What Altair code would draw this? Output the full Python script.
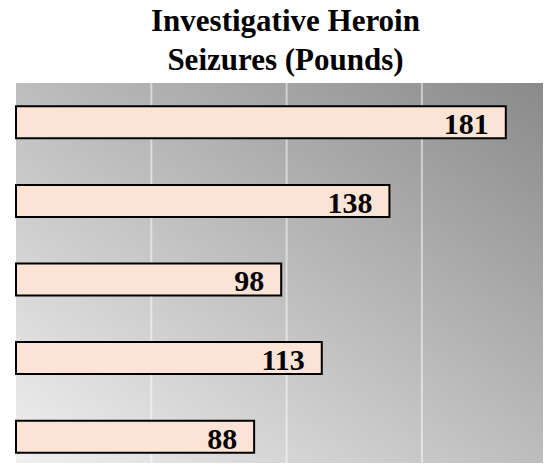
import altair as alt
import pandas as pd

# Data
rows = ["1", "2", "3", "4", "5"]
values = [181, 138, 98, 113, 88]
grid_values = [50, 100, 150]
title_lines = ["Investigative Heroin", "Seizures (Pounds)"]

df = pd.DataFrame({"row": rows, "value": values})
grid_df = pd.DataFrame({"g": grid_values})
bg_df = pd.DataFrame({"k": [0]})

x_scale = alt.Scale(domain=[0, 194.75], nice=False, zero=True)
y_scale = alt.Scale(domain=rows, paddingInner=0.593, paddingOuter=0.214, align=0.693)

background = alt.Chart(bg_df).mark_rect(
    fill=alt.Gradient(
        gradient="linear",
        x1=0, y1=1, x2=1, y2=0,
        stops=[
            alt.GradientStop(offset=0, color="#f0f0f0"),
            alt.GradientStop(offset=1, color="#8a8a8a"),
        ],
    ),
    strokeWidth=0,
).encode(
    x=alt.value(0), x2=alt.value("width"),
    y=alt.value(0), y2=alt.value("height"),
)

grid = alt.Chart(grid_df).mark_rule(
    color="#ffffff", strokeWidth=2, opacity=0.5
).encode(
    x=alt.X("g:Q", scale=x_scale, axis=None),
    y=alt.value(0), y2=alt.value("height"),
)

bars = alt.Chart(df).mark_bar(
    fill="#fbe4d6", stroke="#000000", strokeWidth=2
).encode(
    x=alt.X("value:Q", scale=x_scale, axis=None),
    y=alt.Y("row:N", scale=y_scale, axis=None, sort=rows),
)

labels = alt.Chart(df).mark_text(
    align="right", baseline="alphabetic", dx=-17, dy=12,
    font="Liberation Serif", fontWeight="bold", fontSize=30, color="#000000",
).encode(
    x=alt.X("value:Q", scale=x_scale, axis=None),
    y=alt.Y("row:N", scale=y_scale, axis=None, sort=rows),
    text=alt.Text("value:Q"),
)

chart = alt.layer(background, grid, bars, labels).properties(
    width=527,
    height=380,
    autosize=alt.AutoSizeParams(type="none"),
    padding={"left": 8, "top": 75, "right": 0, "bottom": 0},
    title=alt.TitleParams(
        title_lines,
        font="Liberation Serif", fontSize=31, fontWeight="bold",
        lineHeight=39, offset=5, anchor="middle", color="#000000", dx=6,
    ),
).configure_view(stroke=None).configure(background="#ffffff")

chart.save("out.html", embed_options={"renderer": "svg", "actions": False})
